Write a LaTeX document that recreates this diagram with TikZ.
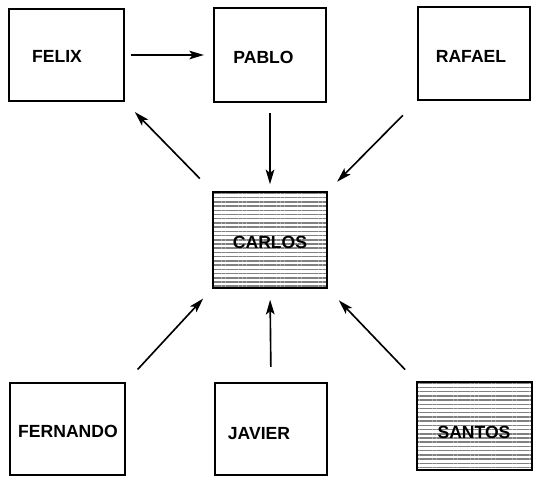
\documentclass[tikz,border=0pt]{standalone}
\usepackage{fontspec}
\setmainfont{Liberation Sans}
\usetikzlibrary{arrows.meta,patterns.meta}

\def\mypx{0.03cm}
\definecolor{myhatch}{gray}{0.5}

\begin{document}
\begin{tikzpicture}[x=\mypx, y=-\mypx,
	box/.style = {draw, line width = 1.8pt, rectangle, inner sep = 0pt},
	hatched/.style = {pattern = {Lines[angle=0, distance=3.6pt, line width=1.3pt]}, pattern color = myhatch},
	persontext/.style = {font = \fontsize{15}{17}\selectfont\bfseries, inner sep = 0pt},
	link/.style = {line width = 1.4pt, -{Stealth[length=4.4mm, width=2.6mm, inset=1mm]}}]
\useasboundingbox (0,0) rectangle (538,476);

% the boxes
\node [box, minimum width = 3.45cm, minimum height = 2.76cm] (felix) at (66.5,55) {};
\node [box, minimum width = 3.36cm, minimum height = 2.82cm] (pablo) at (270,55) {};
\node [box, minimum width = 3.36cm, minimum height = 2.79cm] (rafael) at (474,53.5) {};
\node [box, hatched, minimum width = 3.42cm, minimum height = 2.88cm] (carlos) at (270,240) {};
\node [box, minimum width = 3.45cm, minimum height = 2.76cm] (fernando) at (67.5,429) {};
\node [box, minimum width = 3.36cm, minimum height = 2.76cm] (javier) at (271,429) {};
\node [box, hatched, minimum width = 3.45cm, minimum height = 2.64cm] (santos) at (474.5,426) {};

% the names
\node [persontext] (felixname) at (57,56.5) {FELIX};
\node [persontext] (pabloname) at (263.5,57) {PABLO};
\node [persontext] (rafaelname) at (471,56.5) {RAFAEL};
\node [persontext] (carlosname) at (270,242) {CARLOS};
\node [persontext] (fernandoname) at (68,431.5) {FERNANDO};
\node [persontext] (javiername) at (259,434) {JAVIER};
\node [persontext] (santosname) at (474,432) {SANTOS};

% the arrows
\draw [link, shorten <= 0.18cm, shorten >= 0.27cm] (felix.east) -- (pablo.west); %felix to pablo
\draw [link, shorten <= 0.53cm, shorten >= 0.42cm] (carlos.north west) -- (felix.south east); %carlos to felix
\draw [link, shorten <= 0.30cm, shorten >= 0.21cm] (pablo.south -| carlos.north) -- (carlos.north); %pablo to carlos
\draw [link, shorten <= 0.60cm, shorten >= 0.40cm] (rafael.south west) -- (carlos.north east); %rafael to carlos
\draw [link, shorten <= 0.51cm, shorten >= 0.40cm] (fernando.north east) -- (carlos.south west); %fernando to carlos
\draw [link, shorten <= 0.45cm, shorten >= 0.33cm] (javier.north) -- (carlos.south); %javier to carlos
\draw [link, shorten <= 0.47cm, shorten >= 0.48cm] (santos.north west) -- (carlos.south east); %santos to carlos
\end{tikzpicture}
\end{document}
